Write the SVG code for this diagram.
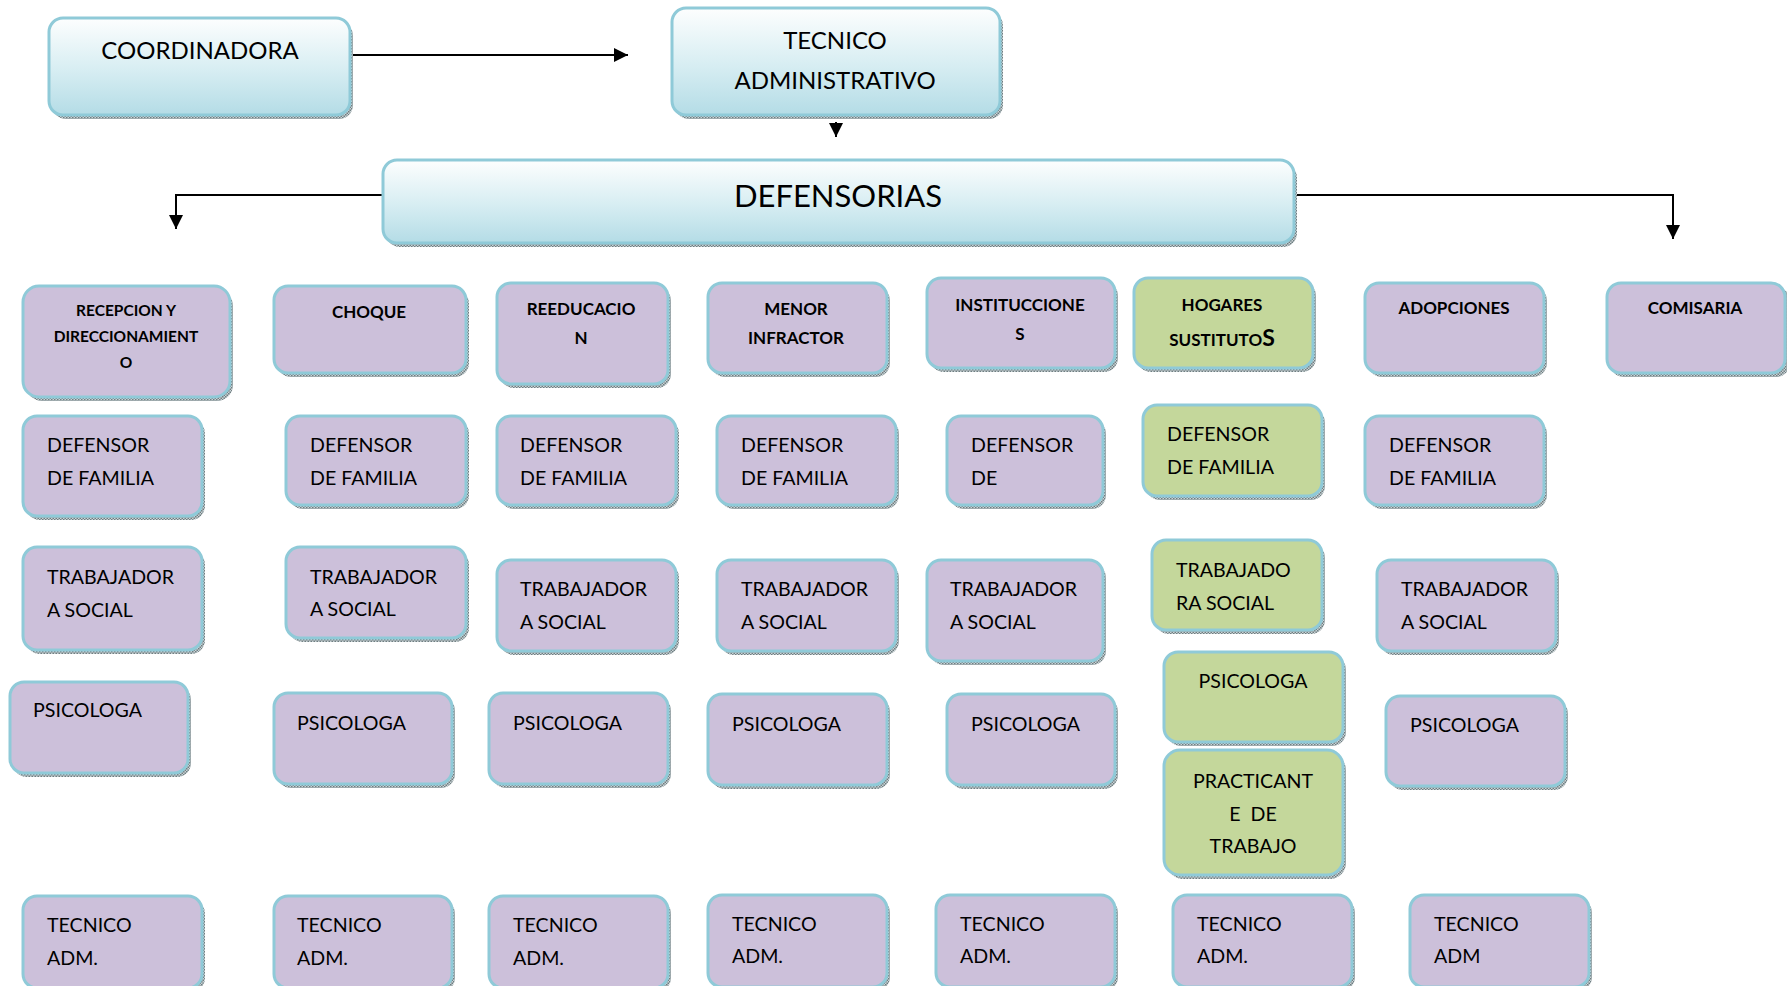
<svg xmlns="http://www.w3.org/2000/svg" width="1787" height="986" viewBox="0 0 1787 986">
<defs>
<linearGradient id="gb" x1="0" y1="0" x2="0" y2="1">
<stop offset="0" stop-color="#FDFEFE"/>
<stop offset="0.55" stop-color="#D6EDF2"/>
<stop offset="1" stop-color="#B4DCE6"/>
</linearGradient>
<pattern id="dots" width="3" height="3" patternUnits="userSpaceOnUse">
<rect width="3" height="3" fill="#C9D3D6"/>
<rect width="1.5" height="1.5" fill="#6F7D80"/>
<rect x="1.5" y="1.5" width="1.5" height="1.5" fill="#6F7D80"/>
</pattern>
<marker id="ahb" viewBox="0 0 10 10" refX="10" refY="5" markerWidth="16" markerHeight="14" markerUnits="userSpaceOnUse" orient="auto">
<path d="M0,0 L10,5 L0,10 z" fill="#000"/>
</marker>
</defs>
<style>
.sh{fill:url(#dots);}
.bx{stroke:#8FCAD8;stroke-width:3;}
.top{fill:url(#gb);}
.lav{fill:#CCC0DA;}
.grn{fill:#C4D79B;}
text{font-family:Lato,"Liberation Sans",sans-serif;fill:#000;}
.t{font-size:19.6px;}
.h{font-size:17px;font-weight:bold;text-anchor:middle;}
.hs{font-size:15.5px;}
.c{text-anchor:middle;}
.big{font-size:24px;text-anchor:middle;}
.conn{fill:none;stroke:#000;stroke-width:2;}
</style>
<rect width="1787" height="986" fill="#fff"/>

<g id="connectors">
<line class="conn" x1="350" y1="55" x2="628" y2="55" marker-end="url(#ahb)"/>
<line class="conn" x1="836" y1="122" x2="836" y2="137" marker-end="url(#ahb)"/>
<polyline class="conn" points="383,195 176,195 176,229" marker-end="url(#ahb)"/>
<polyline class="conn" points="1294,195 1673,195 1673,239" marker-end="url(#ahb)"/>
</g>

<g id="coordinadora"><rect class="sh" x="52" y="22" width="301" height="97" rx="14"/><rect class="bx top" x="49" y="18" width="301" height="97" rx="14"/><text class="big" x="200" y="59">COORDINADORA</text></g>
<g id="tecnico-administrativo"><rect class="sh" x="675" y="12" width="328" height="107" rx="14"/><rect class="bx top" x="672" y="8" width="328" height="107" rx="14"/><text class="big" x="835" y="49">TECNICO</text><text class="big" x="835" y="89">ADMINISTRATIVO</text></g>
<g id="defensorias"><rect class="sh" x="386" y="164" width="911" height="83" rx="14"/><rect class="bx top" x="383" y="160" width="911" height="83" rx="14"/><text x="838" y="207" style="font-size:31px;text-anchor:middle">DEFENSORIAS</text></g>

<g id="recepcion"><rect class="sh" x="26" y="290" width="207" height="111" rx="16"/><rect class="bx lav" x="23" y="286" width="207" height="111" rx="16"/><text class="h hs" x="126" y="316">RECEPCION Y</text><text class="h hs" x="126" y="342">DIRECCIONAMIENT</text><text class="h hs" x="126" y="368">O</text></g>
<g id="choque"><rect class="sh" x="277" y="290" width="192" height="87" rx="14"/><rect class="bx lav" x="274" y="286" width="192" height="87" rx="14"/><text class="h" x="369" y="318">CHOQUE</text></g>
<g id="reeducacion"><rect class="sh" x="500" y="287" width="171" height="101" rx="14"/><rect class="bx lav" x="497" y="283" width="171" height="101" rx="14"/><text class="h" x="581" y="315">REEDUCACIO</text><text class="h" x="581" y="344">N</text></g>
<g id="menor-infractor"><rect class="sh" x="711" y="287" width="179" height="90" rx="14"/><rect class="bx lav" x="708" y="283" width="179" height="90" rx="14"/><text class="h" x="796" y="315">MENOR</text><text class="h" x="796" y="344">INFRACTOR</text></g>
<g id="instituciones"><rect class="sh" x="930" y="282" width="188" height="90" rx="14"/><rect class="bx lav" x="927" y="278" width="188" height="90" rx="14"/><text class="h" x="1020" y="311">INSTITUCCIONE</text><text class="h" x="1020" y="340">S</text></g>
<g id="hogares"><rect class="sh" x="1137" y="282" width="179" height="90" rx="14"/><rect class="bx grn" x="1134" y="278" width="179" height="90" rx="14"/><text class="h" x="1222" y="311">HOGARES</text><text class="h" x="1222" y="346">SUSTITUTO<tspan style="font-size:23px">S</tspan></text></g>
<g id="adopciones"><rect class="sh" x="1368" y="287" width="179" height="90" rx="14"/><rect class="bx lav" x="1365" y="283" width="179" height="90" rx="14"/><text class="h" x="1454" y="314">ADOPCIONES</text></g>
<g id="comisaria"><rect class="sh" x="1610" y="287" width="180" height="90" rx="14"/><rect class="bx lav" x="1607" y="283" width="178" height="90" rx="14"/><text class="h" x="1695" y="314">COMISARIA</text></g>

<g id="defensor-1"><rect class="sh" x="26" y="420" width="179" height="100" rx="14"/><rect class="bx lav" x="23" y="416" width="179" height="100" rx="14"/><text class="t" x="47" y="452">DEFENSOR</text><text class="t" x="47" y="485">DE FAMILIA</text></g>
<g id="defensor-2"><rect class="sh" x="289" y="420" width="180" height="89" rx="14"/><rect class="bx lav" x="286" y="416" width="180" height="89" rx="14"/><text class="t" x="310" y="452">DEFENSOR</text><text class="t" x="310" y="485">DE FAMILIA</text></g>
<g id="defensor-3"><rect class="sh" x="500" y="420" width="179" height="89" rx="14"/><rect class="bx lav" x="497" y="416" width="179" height="89" rx="14"/><text class="t" x="520" y="452">DEFENSOR</text><text class="t" x="520" y="485">DE FAMILIA</text></g>
<g id="defensor-4"><rect class="sh" x="720" y="420" width="179" height="89" rx="14"/><rect class="bx lav" x="717" y="416" width="179" height="89" rx="14"/><text class="t" x="741" y="452">DEFENSOR</text><text class="t" x="741" y="485">DE FAMILIA</text></g>
<g id="defensor-5"><rect class="sh" x="950" y="420" width="156" height="89" rx="14"/><rect class="bx lav" x="947" y="416" width="156" height="89" rx="14"/><text class="t" x="971" y="452">DEFENSOR</text><text class="t" x="971" y="485">DE</text></g>
<g id="defensor-6"><rect class="sh" x="1146" y="409" width="179" height="91" rx="14"/><rect class="bx grn" x="1143" y="405" width="179" height="91" rx="14"/><text class="t" x="1167" y="441">DEFENSOR</text><text class="t" x="1167" y="474">DE FAMILIA</text></g>
<g id="defensor-7"><rect class="sh" x="1368" y="420" width="179" height="89" rx="14"/><rect class="bx lav" x="1365" y="416" width="179" height="89" rx="14"/><text class="t" x="1389" y="452">DEFENSOR</text><text class="t" x="1389" y="485">DE FAMILIA</text></g>

<g id="trabajadora-1"><rect class="sh" x="26" y="551" width="179" height="103" rx="14"/><rect class="bx lav" x="23" y="547" width="179" height="103" rx="14"/><text class="t" x="47" y="584">TRABAJADOR</text><text class="t" x="47" y="617">A SOCIAL</text></g>
<g id="trabajadora-2"><rect class="sh" x="289" y="551" width="180" height="91" rx="14"/><rect class="bx lav" x="286" y="547" width="180" height="91" rx="14"/><text class="t" x="310" y="584">TRABAJADOR</text><text class="t" x="310" y="616">A SOCIAL</text></g>
<g id="trabajadora-3"><rect class="sh" x="500" y="564" width="179" height="91" rx="14"/><rect class="bx lav" x="497" y="560" width="179" height="91" rx="14"/><text class="t" x="520" y="596">TRABAJADOR</text><text class="t" x="520" y="629">A SOCIAL</text></g>
<g id="trabajadora-4"><rect class="sh" x="720" y="564" width="179" height="91" rx="14"/><rect class="bx lav" x="717" y="560" width="179" height="91" rx="14"/><text class="t" x="741" y="596">TRABAJADOR</text><text class="t" x="741" y="629">A SOCIAL</text></g>
<g id="trabajadora-5"><rect class="sh" x="930" y="564" width="176" height="101" rx="14"/><rect class="bx lav" x="927" y="560" width="176" height="101" rx="14"/><text class="t" x="950" y="596">TRABAJADOR</text><text class="t" x="950" y="629">A SOCIAL</text></g>
<g id="trabajadora-6"><rect class="sh" x="1155" y="544" width="170" height="90" rx="14"/><rect class="bx grn" x="1152" y="540" width="170" height="90" rx="14"/><text class="t" x="1176" y="577">TRABAJADO</text><text class="t" x="1176" y="610">RA SOCIAL</text></g>
<g id="trabajadora-7"><rect class="sh" x="1380" y="564" width="179" height="91" rx="14"/><rect class="bx lav" x="1377" y="560" width="179" height="91" rx="14"/><text class="t" x="1401" y="596">TRABAJADOR</text><text class="t" x="1401" y="629">A SOCIAL</text></g>

<g id="psicologa-1"><rect class="sh" x="13" y="686" width="178" height="91" rx="14"/><rect class="bx lav" x="10" y="682" width="178" height="91" rx="14"/><text class="t" x="33" y="717">PSICOLOGA</text></g>
<g id="psicologa-2"><rect class="sh" x="277" y="697" width="178" height="91" rx="14"/><rect class="bx lav" x="274" y="693" width="178" height="91" rx="14"/><text class="t" x="297" y="730">PSICOLOGA</text></g>
<g id="psicologa-3"><rect class="sh" x="492" y="697" width="179" height="91" rx="14"/><rect class="bx lav" x="489" y="693" width="179" height="91" rx="14"/><text class="t" x="513" y="730">PSICOLOGA</text></g>
<g id="psicologa-4"><rect class="sh" x="711" y="698" width="179" height="91" rx="14"/><rect class="bx lav" x="708" y="694" width="179" height="91" rx="14"/><text class="t" x="732" y="731">PSICOLOGA</text></g>
<g id="psicologa-5"><rect class="sh" x="950" y="698" width="168" height="91" rx="14"/><rect class="bx lav" x="947" y="694" width="168" height="91" rx="14"/><text class="t" x="971" y="731">PSICOLOGA</text></g>
<g id="psicologa-6"><rect class="sh" x="1167" y="656" width="179" height="90" rx="14"/><rect class="bx grn" x="1164" y="652" width="179" height="90" rx="14"/><text class="t c" x="1253" y="688">PSICOLOGA</text></g>
<g id="psicologa-7"><rect class="sh" x="1389" y="700" width="179" height="90" rx="14"/><rect class="bx lav" x="1386" y="696" width="179" height="90" rx="14"/><text class="t" x="1410" y="732">PSICOLOGA</text></g>

<g id="practicante"><rect class="sh" x="1167" y="754" width="179" height="125" rx="16"/><rect class="bx grn" x="1164" y="750" width="179" height="125" rx="16"/><text class="t c" x="1253" y="788">PRACTICANT</text><text class="t c" x="1253" y="821" xml:space="preserve">E  DE</text><text class="t c" x="1253" y="853">TRABAJO</text></g>

<g id="tecnico-1"><rect class="sh" x="26" y="900" width="179" height="92" rx="14"/><rect class="bx lav" x="23" y="896" width="179" height="92" rx="14"/><text class="t" x="47" y="932">TECNICO</text><text class="t" x="47" y="965">ADM.</text></g>
<g id="tecnico-2"><rect class="sh" x="277" y="900" width="178" height="92" rx="14"/><rect class="bx lav" x="274" y="896" width="178" height="92" rx="14"/><text class="t" x="297" y="932">TECNICO</text><text class="t" x="297" y="965">ADM.</text></g>
<g id="tecnico-3"><rect class="sh" x="492" y="900" width="179" height="92" rx="14"/><rect class="bx lav" x="489" y="896" width="179" height="92" rx="14"/><text class="t" x="513" y="932">TECNICO</text><text class="t" x="513" y="965">ADM.</text></g>
<g id="tecnico-4"><rect class="sh" x="711" y="899" width="179" height="92" rx="14"/><rect class="bx lav" x="708" y="895" width="179" height="92" rx="14"/><text class="t" x="732" y="931">TECNICO</text><text class="t" x="732" y="963">ADM.</text></g>
<g id="tecnico-5"><rect class="sh" x="939" y="899" width="179" height="92" rx="14"/><rect class="bx lav" x="936" y="895" width="179" height="92" rx="14"/><text class="t" x="960" y="931">TECNICO</text><text class="t" x="960" y="963">ADM.</text></g>
<g id="tecnico-6"><rect class="sh" x="1176" y="899" width="179" height="92" rx="14"/><rect class="bx lav" x="1173" y="895" width="179" height="92" rx="14"/><text class="t" x="1197" y="931">TECNICO</text><text class="t" x="1197" y="963">ADM.</text></g>
<g id="tecnico-7"><rect class="sh" x="1413" y="899" width="179" height="92" rx="14"/><rect class="bx lav" x="1410" y="895" width="179" height="92" rx="14"/><text class="t" x="1434" y="931">TECNICO</text><text class="t" x="1434" y="963">ADM</text></g>
</svg>
